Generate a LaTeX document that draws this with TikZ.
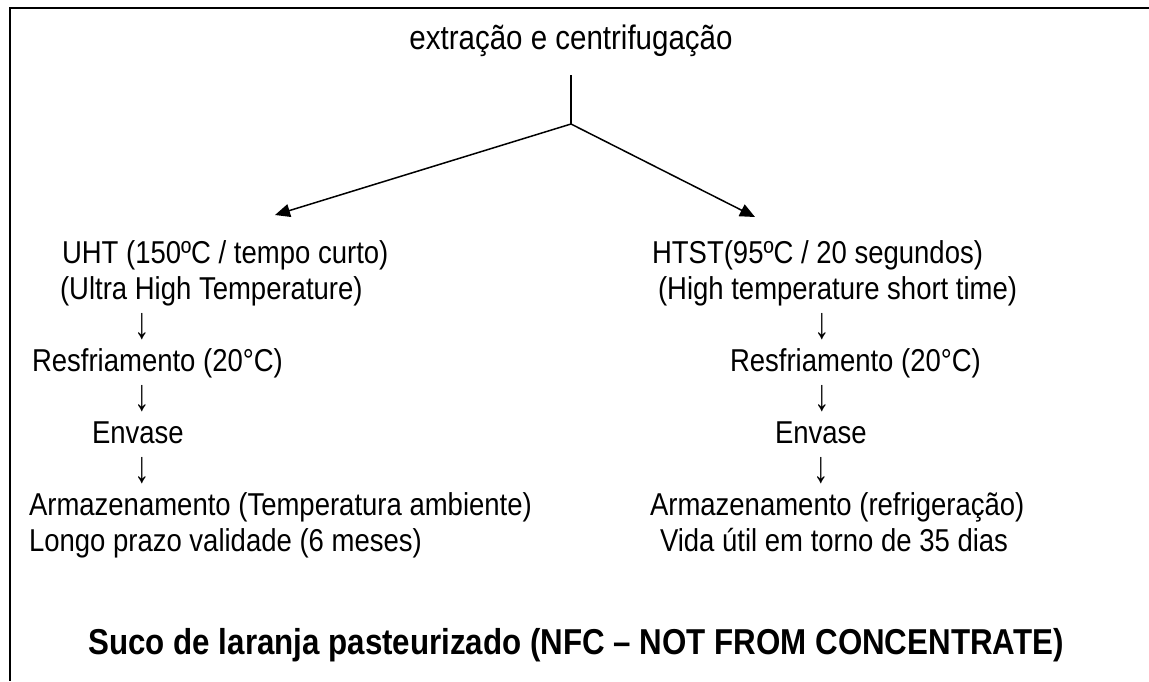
\documentclass[tikz,border=0pt]{standalone}
\usepackage{fontspec}
\setmainfont{Liberation Sans}
\usetikzlibrary{arrows.meta, positioning}

\begin{document}
\begin{tikzpicture}[
  x=1pt, y=-1pt,
  every node/.style={inner sep=0pt, outer sep=0pt, anchor=base west, yscale=1.15, font=\fontsize{27.5}{33}\selectfont},
  head/.style={anchor=base, font=\fontsize{29.5}{35}\selectfont},
  title/.style={anchor=base, font=\fontsize{31.3}{37}\selectfont\bfseries},
  down/.style={anchor=base, yscale=1.25, font=\fontsize{31}{37}\selectfont},
  line/.style={line width=1.5pt},
  arrow/.style={-{Triangle[length=15pt, width=13pt]}, line width=1.5pt},
  frame/.style={line width=2pt}
]
\useasboundingbox (0,0) rectangle (1149,681);

% open frame: top and left side only
\draw[frame] (1149,8) -- (10,8) -- (10,681);

\node (extract) [head] at (571,49) {extração e centrifugação};
\coordinate (split) at (571,124);
\coordinate (lefttip) at (275,215);
\coordinate (righttip) at (755,217);

\draw[line] ([yshift=-26pt]extract.base) -- (split);
\draw[arrow] (split) -- (lefttip);
\draw[arrow] (split) -- (righttip);

% UHT branch
\node (uht) at (62,263) {UHT (150ºC / tempo curto)};
\node (uhtname) at (60,299) {(Ultra High Temperature)};
\node (ldown1) [down] at (142,338) {↓};
\node (lcool) at (32,371) {Resfriamento (20°C)};
\node (ldown2) [down] at (142,410) {↓};
\node (lfill) at (92,443) {Envase};
\node (ldown3) [down] at (142,482) {↓};
\node (lstore) at (29,515) {Armazenamento (Temperatura ambiente)};
\node (llife) at (29,551) {Longo prazo validade (6 meses)};

% HTST branch
\node (htst) at (652,263) {HTST(95ºC / 20 segundos)};
\node (htstname) at (658,299) {(High temperature short time)};
\node (rdown1) [down] at (822,338) {↓};
\node (rcool) at (730,371) {Resfriamento (20°C)};
\node (rdown2) [down] at (822,410) {↓};
\node (rfill) at (775,443) {Envase};
\node (rdown3) [down] at (821,482) {↓};
\node (rstore) at (650,515) {Armazenamento (refrigeração)};
\node (rlife) at (660,551) {Vida útil em torno de 35 dias};

\node (juice) [title] at (576,654) {Suco de laranja pasteurizado (NFC – NOT FROM CONCENTRATE)};

\end{tikzpicture}
\end{document}
